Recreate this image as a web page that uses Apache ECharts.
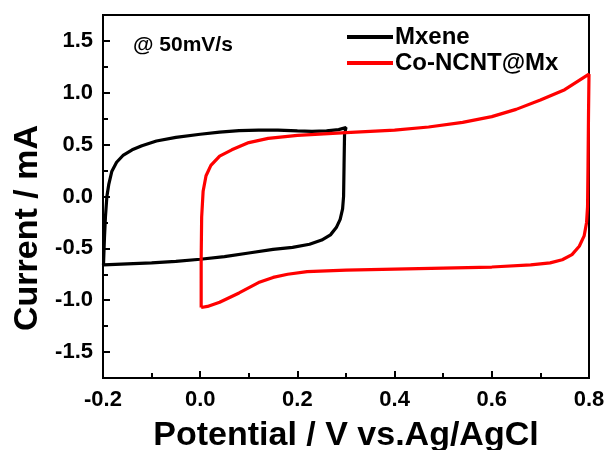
<!DOCTYPE html>
<html><head><meta charset="utf-8">
<script src="https://cdn.jsdelivr.net/npm/echarts@6/dist/echarts.min.js"></script>
<style>html,body{margin:0;padding:0;background:#fff}#c{width:606px;height:450px}</style>
</head><body><div id="c"></div>
<script>
// Data (Potential V, Current mA)
const seriesNames = ['Mxene', 'Co-NCNT@Mx'];
const mxeneX = [-0.199,-0.197,-0.195,-0.192,-0.188,-0.182,-0.172,-0.158,-0.14,-0.12,-0.09,-0.05,0.0,0.04,0.08,0.12,0.16,0.2,0.23,0.26,0.285,0.3,
  0.297,0.296,0.295,0.293,0.288,0.28,0.268,0.25,0.225,0.19,0.15,0.1,0.05,0.0,-0.05,-0.1,-0.15,-0.199];
const mxeneY = [-0.66,-0.4,-0.2,0.0,0.12,0.24,0.33,0.4,0.45,0.49,0.535,0.57,0.6,0.62,0.635,0.64,0.64,0.632,0.628,0.633,0.645,0.665,
  0.6,0.3,0.0,-0.12,-0.22,-0.3,-0.37,-0.42,-0.46,-0.49,-0.51,-0.545,-0.58,-0.605,-0.625,-0.64,-0.65,-0.66];
const coX = [0.002,0.002,0.003,0.006,0.012,0.022,0.04,0.065,0.1,0.14,0.2,0.3,0.4,0.47,0.54,0.6,0.65,0.7,0.75,0.8,
  0.799,0.798,0.797,0.795,0.79,0.78,0.765,0.745,0.72,0.68,0.6,0.5,0.4,0.3,0.22,0.18,0.15,0.12,0.08,0.04,0.015,0.002];
const coY = [-1.07,-0.6,-0.2,0.05,0.2,0.3,0.39,0.45,0.52,0.56,0.59,0.615,0.64,0.67,0.715,0.77,0.84,0.93,1.03,1.18,
  0.8,0.3,-0.1,-0.25,-0.38,-0.48,-0.56,-0.61,-0.64,-0.66,-0.68,-0.69,-0.70,-0.71,-0.725,-0.75,-0.78,-0.83,-0.93,-1.02,-1.06,-1.07];
const yLabelValues = [-1.5,-1.0,-0.5,0.0,0.5,1.0,1.5];
const xTitle = 'Potential / V vs.Ag/AgCl';
const yTitle = 'Current / mA';
const note = '@ 50mV/s';

const pair = (xs, ys) => xs.map((x, i) => [x, ys[i]]);
const font = 'Liberation Sans, Arial, sans-serif';
const chart = echarts.init(document.getElementById('c'), null, {renderer: 'canvas'});
chart.setOption({
  animation: false,
  grid: {left: 103, right: 17, top: 15, bottom: 72, show: true, borderColor: '#000', borderWidth: 2,
    outerBoundsMode: 'none', containLabel: false},
  legend: {
    orient: 'vertical', left: 342, top: 20, itemWidth: 46, itemHeight: 4, itemGap: 2, icon: 'rect',
    textStyle: {fontFamily: font, fontWeight: 'bold', fontSize: 24, color: '#000', padding: [0, 0, 0, -3]},
    data: seriesNames
  },
  graphic: [
    {type: 'text', left: 133, top: 35, style: {text: note, font: 'bold 21px ' + font, fill: '#000'}},
    {type: 'text', x: 28, y: 228, rotation: Math.PI / 2,
     style: {text: yTitle, font: 'bold 34px ' + font, fill: '#000', align: 'center', verticalAlign: 'middle'}}
  ],
  xAxis: {
    type: 'value', min: -0.2, max: 0.8, interval: 0.2,
    name: xTitle, nameLocation: 'middle', nameGap: 41,
    nameTextStyle: {fontFamily: font, fontWeight: 'bold', fontSize: 34, color: '#000'},
    axisLine: {onZero: false, lineStyle: {color: '#000', width: 2}},
    axisTick: {inside: true, length: 7, lineStyle: {color: '#000', width: 2}},
    minorTick: {show: true, splitNumber: 2, length: 5, lineStyle: {color: '#000', width: 2}},
    axisLabel: {fontFamily: font, fontWeight: 'bold', fontSize: 22, color: '#000', margin: 11,
      formatter: v => v.toFixed(1)},
    splitLine: {show: false}
  },
  yAxis: [{
    type: 'value', min: -1.75, max: 1.75, position: 'left',
    axisLine: {show: true, onZero: false, lineStyle: {color: '#000', width: 2}},
    axisTick: {show: true, inside: true, length: 7, customValues: yLabelValues, lineStyle: {color: '#000', width: 2}},
    axisLabel: {fontFamily: font, fontWeight: 'bold', fontSize: 22, color: '#000', margin: 10,
      customValues: yLabelValues, formatter: v => v.toFixed(1)},
    splitLine: {show: false}
  }, {
    type: 'value', min: -1.75, max: 1.75, interval: 0.25, position: 'left', offset: 0,
    axisLine: {show: false, onZero: false},
    axisTick: {show: true, inside: true, length: 5, lineStyle: {color: '#000', width: 2}},
    axisLabel: {show: false},
    splitLine: {show: false}
  }],
  series: [
    {name: seriesNames[0], type: 'line', data: pair(mxeneX, mxeneY), showSymbol: false,
     lineStyle: {color: '#000', width: 3.2}, itemStyle: {color: '#000'}},
    {name: seriesNames[1], type: 'line', data: pair(coX, coY), showSymbol: false,
     lineStyle: {color: '#ff0000', width: 3.2}, itemStyle: {color: '#ff0000'}}
  ]
});
</script></body></html>
